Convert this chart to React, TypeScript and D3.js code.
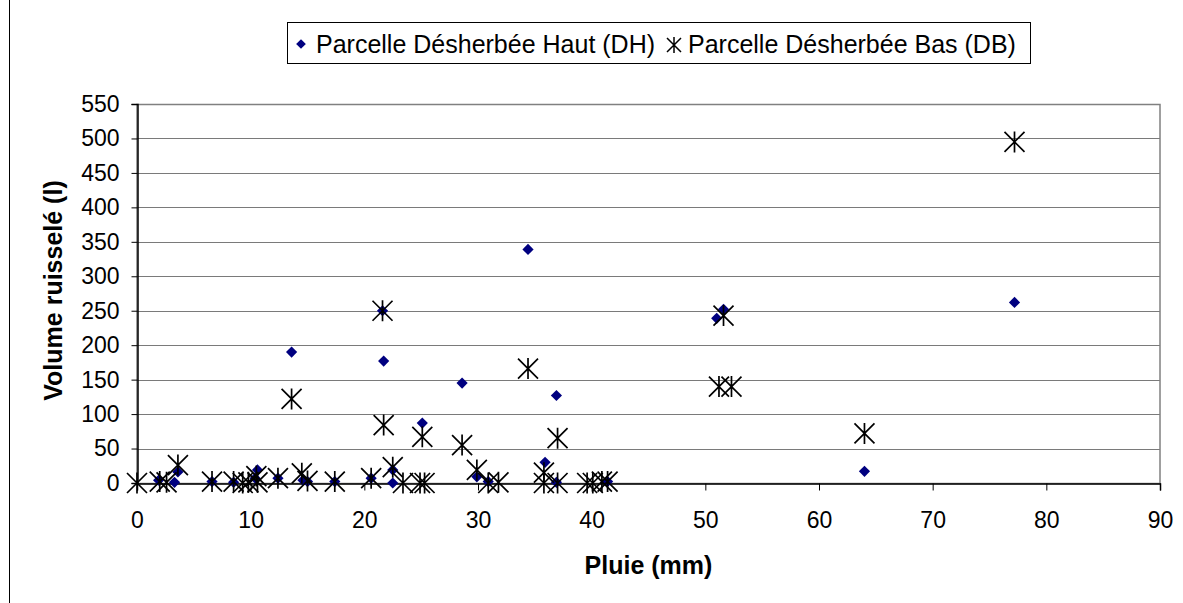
import * as React from 'react';
import { useEffect, useRef } from 'react';
import * as d3 from 'd3';

// Data: [pluie (mm), volume ruisselé (l)]
const haut: [number, number][] = [
  [1.9, 4], [3.3, 1], [3.6, 16], [6.6, 2], [8.5, 1], [10.4, 7], [10.6, 19], [12.4, 7],
  [13.6, 190], [14.6, 4], [15.0, 2], [17.4, 2], [20.6, 7], [21.6, 250], [21.7, 177],
  [22.5, 19], [22.5, 0], [25.1, 87], [28.6, 145], [29.9, 9], [30.9, 2], [34.4, 339],
  [35.9, 30], [36.9, 127], [36.9, 1], [41.4, 2], [51.0, 239], [51.6, 252], [64.0, 17],
  [77.2, 262],
];

const bas: [number, number][] = [
  [0, 0], [2.0, 2], [2.6, 1], [3.6, 26], [6.6, 2], [8.5, 2], [9.3, 0], [9.8, 1],
  [10.5, 10], [10.6, 1], [12.4, 7], [13.6, 122], [14.5, 14], [15.0, 3], [17.4, 2],
  [20.6, 7], [21.6, 250], [21.7, 84], [22.5, 23], [23.4, 0], [24.9, 0], [25.3, 0],
  [25.1, 67], [28.6, 55], [29.9, 19], [30.9, 0], [31.8, 1], [34.4, 166], [35.8, 15],
  [35.8, 0], [37.0, 65], [37.0, 0], [39.6, 0], [40.1, 0], [40.9, 2], [41.4, 2],
  [51.2, 140], [51.6, 243], [52.3, 140], [64.0, 72], [77.2, 495],
];

const xTicks = [0, 10, 20, 30, 40, 50, 60, 70, 80, 90];
const yTicks = [0, 50, 100, 150, 200, 250, 300, 350, 400, 450, 500, 550];

const seriesNames = ['Parcelle Désherbée Haut (DH)', 'Parcelle Désherbée Bas (DB)'];

const W = 1183;
const H = 603;
const FONT = 'Arial, "Liberation Sans", sans-serif';

const App: React.FC = () => {
  const svgRef = useRef<SVGSVGElement>(null);

  useEffect(() => {
    const svg = d3.select(svgRef.current);
    svg.selectAll('*').remove();

    const margin = { top: 104, right: 23, bottom: 120, left: 137 };
    const x = d3.scaleLinear().domain([0, 90]).range([margin.left, W - margin.right]);
    const y = d3.scaleLinear().domain([0, 550]).range([H - margin.bottom, margin.top]);

    svg.append('rect').attr('width', W).attr('height', H).attr('fill', '#fff');

    // chart area border (left edge)
    svg.append('line').attr('x1', 9.5).attr('x2', 9.5).attr('y1', 0).attr('y2', H)
      .attr('stroke', '#000').attr('stroke-width', 1);

    // gridlines
    svg.append('g')
      .selectAll('line')
      .data(yTicks.filter(d => d > 0))
      .enter().append('line')
      .attr('x1', x(0)).attr('x2', x(90))
      .attr('y1', d => Math.round(y(d)) + 0.5).attr('y2', d => Math.round(y(d)) + 0.5)
      .attr('stroke', '#7a7a7a').attr('stroke-width', 1);

    // plot area border
    svg.append('rect')
      .attr('x', x(0)).attr('y', Math.round(y(550)) + 0.5)
      .attr('width', x(90) - x(0)).attr('height', y(0) - y(550))
      .attr('fill', 'none').attr('stroke', '#808080').attr('stroke-width', 1.5);

    // axes
    const xAxis = d3.axisBottom(x).tickValues(xTicks).tickSize(7).tickPadding(21);
    const yAxis = d3.axisLeft(y).tickValues(yTicks).tickSize(6).tickPadding(12);

    const gx = svg.append('g')
      .attr('transform', `translate(0,${Math.round(y(0)) + 0.5})`)
      .call(xAxis);
    const gy = svg.append('g')
      .attr('transform', `translate(${x(0) + 0.5},0)`)
      .call(yAxis);

    [gx, gy].forEach(g => {
      g.selectAll('.domain').attr('stroke', '#000').attr('stroke-width', 1.5);
      g.selectAll('.tick line').attr('stroke', '#000');
      g.selectAll('text').attr('font-family', FONT).attr('font-size', 23).attr('fill', '#000');
    });

    // axis titles
    svg.append('text')
      .attr('x', (x(0) + x(90)) / 2).attr('y', 574)
      .attr('text-anchor', 'middle')
      .attr('font-family', FONT).attr('font-size', 25).attr('font-weight', 'bold')
      .text('Pluie (mm)');

    svg.append('text')
      .attr('transform', `translate(62,${(y(0) + y(550)) / 2 - 3}) rotate(-90)`)
      .attr('text-anchor', 'middle')
      .attr('font-family', FONT).attr('font-size', 25).attr('font-weight', 'bold')
      .text('Volume ruisselé (l)');

    const diamond = d3.symbol().type(d3.symbolDiamond2).size(80);
    const star = (s: number, a: number) =>
      `M0,${-s}V${s}M${-a},${-a}L${a},${a}M${-a},${a}L${a},${-a}`;

    // series DH
    svg.append('g')
      .selectAll('path')
      .data(haut)
      .enter().append('path')
      .attr('transform', d => `translate(${x(d[0])},${y(d[1])})`)
      .attr('d', diamond() as string)
      .attr('fill', '#000080');

    // series DB
    svg.append('g')
      .selectAll('path')
      .data(bas)
      .enter().append('path')
      .attr('transform', d => `translate(${x(d[0])},${y(d[1])})`)
      .attr('d', star(10.5, 10))
      .attr('fill', 'none')
      .attr('stroke', '#000')
      .attr('stroke-width', 1.7);

    // legend
    const lg = svg.append('g');
    lg.append('rect')
      .attr('x', 287.5).attr('y', 22.5).attr('width', 743).attr('height', 41)
      .attr('fill', '#fff').attr('stroke', '#000').attr('stroke-width', 1);
    lg.append('path')
      .attr('transform', 'translate(301,44)')
      .attr('d', d3.symbol().type(d3.symbolDiamond2).size(60)() as string)
      .attr('fill', '#000080');
    lg.append('text')
      .attr('x', 316).attr('y', 53)
      .attr('font-family', FONT).attr('font-size', 25)
      .text(seriesNames[0]);
    lg.append('path')
      .attr('transform', 'translate(674,45)')
      .attr('d', star(8, 7))
      .attr('fill', 'none').attr('stroke', '#000').attr('stroke-width', 1.5);
    lg.append('text')
      .attr('x', 688).attr('y', 53)
      .attr('font-family', FONT).attr('font-size', 25)
      .text(seriesNames[1]);
  }, []);

  return (
    <svg ref={svgRef} width={W} height={H} style={{ display: 'block', position: 'absolute', left: 0, top: 0 }}></svg>
  );
};

export default App;
